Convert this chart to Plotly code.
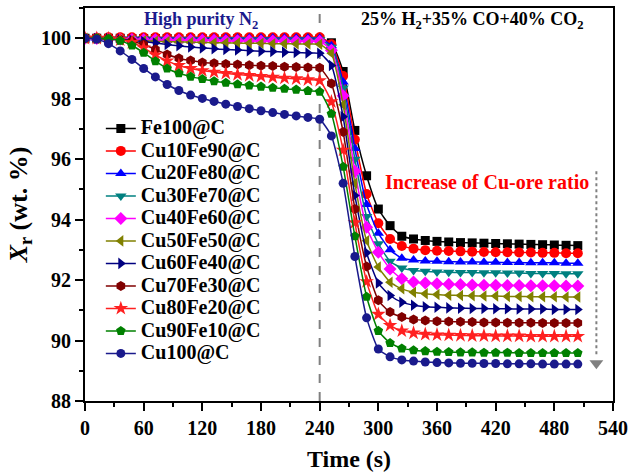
import plotly.graph_objects as go

time_s = list(range(0, 505, 12))

names = ["Fe100@C", "Cu10Fe90@C", "Cu20Fe80@C", "Cu30Fe70@C", "Cu40Fe60@C",
         "Cu50Fe50@C", "Cu60Fe40@C", "Cu70Fe30@C", "Cu80Fe20@C", "Cu90Fe10@C", "Cu100@C"]

fe100 = [100.00,100.00,100.00,100.00,99.99,99.99,99.99,99.99,99.98,99.98,99.98,99.98,99.98,99.98,99.97,99.97,99.97,99.97,99.97,99.97,99.97,
         99.85,98.90,96.95,95.45,94.35,93.80,93.45,93.36,
         93.31,93.28,93.26,93.24,93.23,93.22,93.21,93.20,93.19,93.18,93.17,93.16,93.15,93.14]
cu10 = [100.00,100.02,100.03,100.03,100.03,100.03,100.03,100.03,100.03,100.03,100.03,100.03,100.03,100.03,100.03,100.03,100.03,100.03,100.03,100.03,100.03,
        99.80,98.75,96.65,94.85,93.88,93.36,93.13,93.04,
        92.99,92.97,92.96,92.95,92.94,92.93,92.92,92.92,92.91,92.91,92.90,92.90,92.89,92.89]
cu20 = [100.00,100.00,100.01,100.01,100.01,100.01,100.01,100.01,100.01,100.01,100.01,100.01,100.01,100.01,100.01,100.01,100.01,100.01,100.01,100.01,100.00,
        99.75,98.55,96.35,94.50,93.55,93.00,92.72,92.66,
        92.63,92.62,92.61,92.60,92.60,92.59,92.59,92.58,92.58,92.57,92.57,92.57,92.56,92.56]
cu30 = [100.00,99.99,99.99,99.98,99.98,99.98,99.97,99.97,99.97,99.97,99.96,99.96,99.96,99.96,99.96,99.95,99.95,99.95,99.95,99.95,99.95,
        99.70,98.35,96.00,94.10,93.20,92.62,92.40,92.32,
        92.29,92.27,92.26,92.25,92.25,92.24,92.24,92.23,92.23,92.22,92.22,92.22,92.21,92.21]
cu40 = [100.00,99.99,99.98,99.97,99.96,99.95,99.95,99.94,99.94,99.93,99.93,99.93,99.92,99.92,99.92,99.91,99.91,99.91,99.90,99.90,99.90,
        99.60,98.10,95.60,93.75,92.92,92.37,92.04,91.94,
        91.90,91.88,91.86,91.85,91.84,91.83,91.83,91.82,91.82,91.81,91.81,91.81,91.80,91.80]
cu50 = [100.00,99.99,99.97,99.95,99.93,99.92,99.90,99.89,99.88,99.87,99.86,99.85,99.85,99.84,99.83,99.83,99.82,99.82,99.81,99.81,99.80,
        99.50,97.80,95.20,93.30,92.43,91.93,91.71,91.60,
        91.55,91.52,91.50,91.49,91.48,91.47,91.47,91.46,91.46,91.45,91.45,91.45,91.44,91.44]
cu60 = [100.00,99.99,99.98,99.96,99.93,99.89,99.84,99.79,99.75,99.71,99.68,99.65,99.63,99.61,99.59,99.57,99.56,99.54,99.53,99.51,99.50,
        99.10,97.40,94.80,92.90,91.90,91.49,91.27,91.17,
        91.12,91.10,91.08,91.07,91.06,91.06,91.05,91.05,91.04,91.04,91.04,91.03,91.03,91.03]
cu70 = [100.00,100.00,99.99,99.96,99.90,99.79,99.63,99.46,99.34,99.26,99.20,99.17,99.15,99.13,99.11,99.09,99.08,99.06,99.05,99.03,99.02,
        98.50,96.90,94.35,92.45,91.33,90.94,90.78,90.70,
        90.66,90.64,90.63,90.62,90.61,90.60,90.60,90.59,90.59,90.59,90.58,90.58,90.58,90.58]
cu80 = [100.00,100.00,99.99,99.95,99.86,99.68,99.45,99.25,99.10,99.00,98.93,98.88,98.84,98.80,98.77,98.74,98.71,98.68,98.66,98.63,98.60,
        97.90,96.30,93.90,91.95,90.87,90.50,90.32,90.25,
        90.21,90.19,90.18,90.17,90.16,90.16,90.15,90.15,90.15,90.14,90.14,90.14,90.14,90.14]
cu90 = [100.00,100.00,99.98,99.92,99.76,99.52,99.24,99.00,98.84,98.73,98.65,98.58,98.53,98.48,98.44,98.40,98.36,98.33,98.30,98.26,98.23,
        97.50,95.75,93.45,91.45,90.32,89.92,89.74,89.68,
        89.65,89.63,89.62,89.61,89.61,89.60,89.60,89.60,89.59,89.59,89.59,89.59,89.59,89.59]
cu100 = [100.00,99.97,99.82,99.58,99.30,99.00,98.72,98.47,98.27,98.12,98.01,97.91,97.82,97.74,97.67,97.60,97.54,97.48,97.43,97.38,97.32,
         96.77,95.20,92.78,90.75,89.72,89.46,89.36,89.32,
         89.29,89.27,89.26,89.25,89.25,89.24,89.24,89.23,89.23,89.23,89.22,89.22,89.22,89.22]

series = [fe100, cu10, cu20, cu30, cu40, cu50, cu60, cu70, cu80, cu90, cu100]
colors = ["#000000", "#FF0000", "#0000FF", "#008080", "#FF00FF", "#808000",
          "#000080", "#800000", "#FF2020", "#008000", "#1A1A8C"]
symbols = ["square", "circle", "triangle-up", "triangle-down", "diamond", "triangle-left",
           "triangle-right", "hexagon", "star", "pentagon", "circle"]
sizes = [9, 10, 10, 10, 10, 10, 10, 10, 11, 10, 9]

switch_time = 240
FONT = "Liberation Serif"

fig = go.Figure()
for name, ys, c, s, ms in zip(names, series, colors, symbols, sizes):
    fig.add_trace(go.Scatter(
        x=time_s, y=ys, mode="lines+markers",
        name='<span style="font-size:20px">' + name + "</span>",
        line=dict(color=c, width=1.5, shape="spline", smoothing=0.5),
        marker=dict(symbol=s, size=ms, color=c, line=dict(width=0)),
    ))

# arrow head of the "increase" indicator
fig.add_trace(go.Scatter(x=[523], y=[89.25], mode="markers", showlegend=False,
                         marker=dict(symbol="triangle-down", size=12, color="#808080"),
                         hoverinfo="skip"))

fig.add_shape(type="line", x0=switch_time, x1=switch_time, y0=88, y1=101,
              line=dict(color="#808080", width=2, dash="dash"), layer="below")
fig.add_shape(type="line", x0=523, x1=523, y0=95.6, y1=89.45,
              line=dict(color="#808080", width=2, dash="dot"))

fig.add_annotation(x=119, y=100.6, text="High purity N<sub>2</sub>", showarrow=False,
                   font=dict(family=FONT, size=18, color="#1A1A8C", weight="bold"))
fig.add_annotation(x=396, y=100.6, text="25% H<sub>2</sub>+35% CO+40% CO<sub>2</sub>", showarrow=False,
                   font=dict(family=FONT, size=18, color="#000000", weight="bold"))
fig.add_annotation(x=411, y=95.25, text="Increase of Cu-ore ratio", showarrow=False,
                   font=dict(family=FONT, size=20, color="#FF0000", weight="bold"))

axis_common = dict(showline=True, linecolor="black", linewidth=2, mirror=True,
                   ticks="outside", ticklen=8, tickwidth=2, tickcolor="black",
                   showgrid=False, zeroline=False,
                   tickfont=dict(family=FONT, size=20, color="black", weight="bold"))

fig.update_xaxes(range=[0, 540], dtick=60, tick0=0,
                 minor=dict(dtick=30, ticks="outside", ticklen=4, tickwidth=2, tickcolor="black"),
                 title=dict(text="Time (s)", font=dict(family=FONT, size=24, color="black", weight="bold"), standoff=12),
                 **axis_common)
fig.update_yaxes(range=[88, 101], dtick=2, tick0=88,
                 minor=dict(dtick=1, ticks="outside", ticklen=4, tickwidth=2, tickcolor="black"),
                 title=dict(text="<i>X</i><sub>r</sub> (wt. %)", font=dict(family=FONT, size=26, color="black", weight="bold"), standoff=6),
                 **axis_common)

fig.update_layout(
    width=631, height=473,
    margin=dict(l=85, r=18, t=8, b=72, autoexpand=False),
    paper_bgcolor="white", plot_bgcolor="white",
    font=dict(family=FONT, color="black"),
    legend=dict(x=0.03, y=0.735, xanchor="left", yanchor="top",
                bgcolor="rgba(0,0,0,0)", borderwidth=0,
                font=dict(family=FONT, size=15, color="black", weight="bold"),
                tracegroupgap=0),
    showlegend=True,
)

fig.write_html("out.html")
